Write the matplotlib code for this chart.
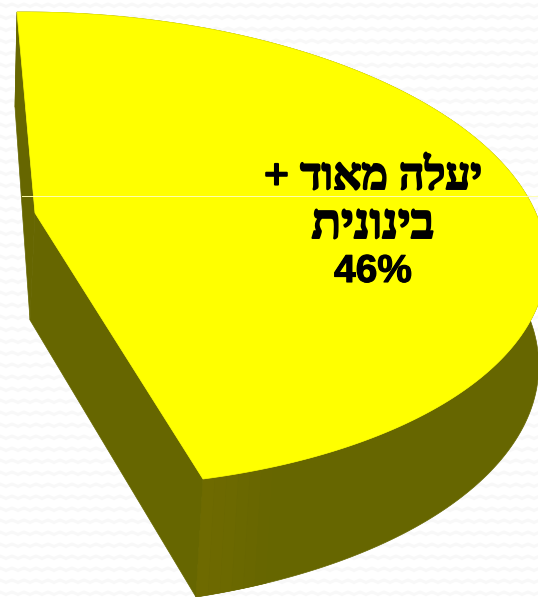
"""
plot.py - single 46% slice of a 3D pie, drawn by mapping the unit circle to the picture
"""
import numpy as np
import matplotlib
matplotlib.use("Agg")
import matplotlib.pyplot as plt
import matplotlib.patheffects as pe
from matplotlib.patches import Polygon

W, H = 538, 597

# data
slice_share = [46]
label_lines = ["יעלה מאוד +", "בינונית", "46%"]

# picture anchors of the slice: centre, first edge end, second edge end
top_anchors = [(35, 213), (17, 12), (203, 479)]
low_anchors = [(30, 320), (15, 107), (196, 597)]
# where the rims run in the picture, used to settle the perspective
top_rim = [(120, 16), (200, 28), (300, 52), (380, 80), (470, 128), (510, 170), (538, 205),
           (538, 313), (520, 335), (480, 380), (400, 425), (300, 460)]
low_rim = [(250, 583), (330, 565), (400, 535), (483, 480), (513, 443), (530, 407), (538, 370)]


def homography(src, dst):
    rows = []
    for (x, y), (u, v) in zip(src, dst):
        rows.append([x, y, 1, 0, 0, 0, -u*x, -u*y, -u])
        rows.append([0, 0, 0, x, y, 1, -v*x, -v*y, -v])
    _, _, vt = np.linalg.svd(np.array(rows, float))
    return vt[-1].reshape(3, 3)


def apply(hm, pts):
    p = np.c_[pts, np.ones(len(pts))] @ hm.T
    return p[:, :2] / p[:, 2:]


sweep = np.radians(slice_share[0] / 100 * 360)
src = [(0, 0), (1, 0), (np.cos(sweep/2), np.sin(sweep/2)), (np.cos(sweep), np.sin(sweep))]
t = np.linspace(0, sweep, 400)
circle = np.c_[np.cos(t), np.sin(t)]


def fit_arc(anchors, rim):
    # try positions for the arc middle, keep the curve closest to the rim
    rim = np.array(rim, float)
    best, best_err = None, np.inf
    for mx in np.arange(300, 640, 5):
        for my in np.arange(60, 560, 5):
            hm = homography(src, [anchors[0], anchors[1], (mx, my), anchors[2]])
            curve = apply(hm, circle[::4])
            if curve[:, 0].min() < anchors[1][0] - 5 or curve[:, 1].max() > anchors[2][1] + 5:
                continue
            d = np.hypot(curve[:, 0, None] - rim[:, 0], curve[:, 1, None] - rim[:, 1]).min(axis=0)
            err = (d ** 2).sum()
            if err < best_err:
                best, best_err = hm, err
    return apply(best, circle)


arc = fit_arc(top_anchors, top_rim)
low = fit_arc(low_anchors, low_rim)

fig = plt.figure(figsize=(W/100, H/100), dpi=100)
ax = fig.add_axes([0, 0, 1, 1])
ax.set_xlim(0, W)
ax.set_ylim(H, 0)
ax.axis("off")

# faint zigzag wallpaper
xs = np.arange(-12, W + 12, 6)
for row in np.arange(4, H, 12):
    ax.plot(xs, row + 2.5 * (np.arange(len(xs)) % 2), color="#f8f8f8", lw=2.2, zorder=0)

side = "#666600"
# outer wall
ax.add_patch(Polygon(np.r_[arc, low[::-1]], closed=True, fc=side, ec=side, lw=0.5, zorder=1))
# lighter strip next to the front corner
n = len(arc) - 1
band_cols = ["#6e6a00", "#6d6900", "#6c6900", "#6a6800", "#696700", "#676600"]
for i, col in enumerate(band_cols):
    a, b = n - 3 * i, n - 3 * (i + 1)
    ax.add_patch(Polygon([arc[a], arc[b], low[b], low[a]], closed=True, fc=col, ec=col, lw=0.3, zorder=2))
# cut faces
ax.add_patch(Polygon([top_anchors[0], top_anchors[2], low_anchors[2], low_anchors[0]],
                     closed=True, fc=side, ec=side, lw=0.5, zorder=1))
ax.add_patch(Polygon([top_anchors[0], top_anchors[1], low_anchors[1], low_anchors[0]],
                     closed=True, fc=side, ec=side, lw=0.5, zorder=1))
# top face
ax.add_patch(Polygon(np.r_[[top_anchors[0]], arc], closed=True, fc="#ffff00", ec="#ffff00", lw=0.5, zorder=3))

ax.plot([22, W], [196, 196], color="#ffffb0", lw=0.7, zorder=4)

# matplotlib has no bidi: hebrew lines go in visual order
for s, y, size in zip(label_lines[:2], [178, 226], [32, 35]):
    txt = ax.text(373, y, s[::-1], ha="center", va="center", fontsize=size, fontweight="bold",
                  family="Liberation Serif", color="black", zorder=5)
    txt.set_path_effects([pe.withStroke(linewidth=1.4, foreground="black")])
pct = ax.text(373, 272, label_lines[2], ha="center", va="center", fontsize=28, fontweight="bold",
              family="Liberation Sans", color="black", zorder=5)
pct.set_path_effects([pe.withStroke(linewidth=0.8, foreground="black")])

fig.savefig("out.png", dpi=100)
